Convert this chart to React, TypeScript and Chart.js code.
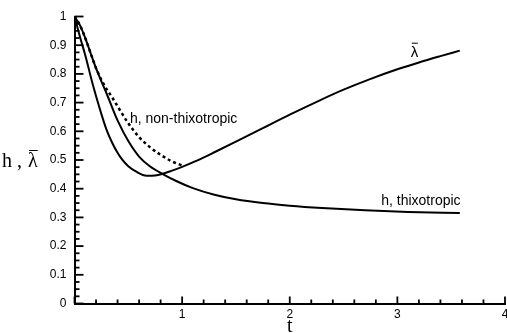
import { useEffect, useRef } from 'react';
import { Chart, registerables } from 'chart.js';

Chart.register(...registerables);

// λ̄ curve
const lambdaT = [0, 0.05, 0.1, 0.165, 0.21, 0.25, 0.3, 0.35, 0.4, 0.44, 0.5, 0.57, 0.67, 0.75, 0.82, 0.9, 1.0, 1.12, 1.3, 1.5, 1.75, 2.0, 2.28, 2.5, 2.74, 3.0, 3.2, 3.4, 3.58];
const lambdaV = [1, 0.93, 0.865, 0.77, 0.71, 0.66, 0.603, 0.56, 0.525, 0.503, 0.478, 0.46, 0.445, 0.446, 0.452, 0.462, 0.476, 0.495, 0.527, 0.564, 0.611, 0.658, 0.708, 0.745, 0.781, 0.816, 0.84, 0.862, 0.881];

// h, thixotropic
const hThixoT = [0, 0.05, 0.1, 0.15, 0.2, 0.26, 0.3, 0.4, 0.5, 0.6, 0.7, 0.82, 0.95, 1.1, 1.3, 1.5, 1.75, 2.0, 2.3, 2.7, 3.1, 3.58];
const hThixoV = [1, 0.97, 0.925, 0.872, 0.82, 0.765, 0.73, 0.638, 0.566, 0.512, 0.478, 0.451, 0.426, 0.402, 0.379, 0.363, 0.35, 0.341, 0.333, 0.325, 0.319, 0.315];

// h, non-thixotropic
const hNonT = [0, 0.05, 0.1, 0.15, 0.2, 0.27, 0.35, 0.42, 0.5, 0.6, 0.7, 0.8, 0.9, 1.02];
const hNonV = [1, 0.97, 0.925, 0.872, 0.82, 0.765, 0.718, 0.675, 0.628, 0.58, 0.545, 0.518, 0.496, 0.478];

const xMin = 0;
const xMax = 4;
const yMin = 0;
const yMax = 1;
const xMajorStep = 1;
const xMinorStep = 0.2;
const yMajorStep = 0.1;
const yMinorStep = 0.025;

const sans = '"Liberation Sans", Arial, sans-serif';
const serif = '"Liberation Serif", "Times New Roman", serif';

const curveLabels = [
  { text: 'h, non-thixotropic', t: 0.515, v: 0.629, bar: false },
  { text: 'h, thixotropic', t: 2.85, v: 0.343, bar: false },
  { text: 'λ', t: 3.125, v: 0.86, bar: true },
];

const yTitleMain = 'h ,';
const yTitleSym = 'λ';
const xTitle = 't';

const pts = (t: number[], v: number[]) => t.map((x, i) => ({ x, y: v[i] }));

const inwardTicks = {
  id: 'inwardTicks',
  afterDraw(chart: any) {
    const { ctx, chartArea, scales } = chart;
    const xs = scales.x;
    const ys = scales.y;
    ctx.save();
    ctx.fillStyle = '#000';
    const nx = Math.round((xMax - xMin) / xMinorStep);
    const perMajorX = Math.round(xMajorStep / xMinorStep);
    for (let i = 0; i <= nx; i++) {
      const px = xs.getPixelForValue(xMin + i * xMinorStep);
      const len = i % perMajorX === 0 ? 7 : 4;
      ctx.fillRect(px - 0.9, chartArea.bottom - len, 1.8, len);
    }
    const ny = Math.round((yMax - yMin) / yMinorStep);
    const perMajorY = Math.round(yMajorStep / yMinorStep);
    for (let i = 0; i <= ny; i++) {
      const py = ys.getPixelForValue(yMin + i * yMinorStep);
      const len = i % perMajorY === 0 ? 9 : 5;
      ctx.fillRect(chartArea.left, py - 0.9, len, 1.8);
    }

    // curve labels
    ctx.textBaseline = 'alphabetic';
    ctx.textAlign = 'left';
    for (const l of curveLabels) {
      ctx.font = l.bar ? `15px ${sans}` : `14px ${sans}`;
      const x = xs.getPixelForValue(l.t);
      const y = ys.getPixelForValue(l.v);
      ctx.fillText(l.text, x, y);
      if (l.bar) {
        const w = ctx.measureText(l.text).width;
        ctx.fillRect(x + 1, y - 14, w - 1.5, 1);
      }
    }

    // axis titles
    ctx.font = `20px ${serif}`;
    ctx.textAlign = 'left';
    const ty = ys.getPixelForValue(0.5) + 7;
    ctx.fillText(yTitleMain, 2, ty);
    const wMain = ctx.measureText(yTitleMain + ' ').width;
    const lx = 2 + wMain + 1;
    ctx.fillText(yTitleSym, lx, ty);
    const wl = ctx.measureText(yTitleSym).width;
    ctx.fillRect(lx + 1, ty - 17, wl - 1, 1);

    ctx.textAlign = 'center';
    ctx.fillText(xTitle, (chartArea.left + chartArea.right) / 2, chart.height - 1);
    ctx.restore();
  },
};

export default function App() {
  const ref = useRef<HTMLCanvasElement | null>(null);
  useEffect(() => {
    if (!ref.current) return;
    const lineBase = {
      showLine: true,
      pointRadius: 0,
      borderColor: '#000',
      backgroundColor: '#000',
      fill: false,
      cubicInterpolationMode: 'monotone' as const,
    };
    const chart = new Chart(ref.current, {
      type: 'scatter',
      data: {
        datasets: [
          { ...lineBase, label: 'λ̄', data: pts(lambdaT, lambdaV), borderWidth: 2 },
          { ...lineBase, label: 'h, thixotropic', data: pts(hThixoT, hThixoV), borderWidth: 2 },
          { ...lineBase, label: 'h, non-thixotropic', data: pts(hNonT, hNonV), borderWidth: 2.5, borderDash: [3, 3] },
        ],
      },
      options: {
        animation: false,
        responsive: false,
        devicePixelRatio: 1,
        layout: { padding: { top: 16.5, right: 2, left: 0, bottom: 0 } },
        plugins: { legend: { display: false }, tooltip: { enabled: false } },
        scales: {
          x: {
            type: 'linear',
            min: xMin,
            max: xMax,
            grid: { display: true, drawOnChartArea: false, drawTicks: false },
            border: { display: true, color: '#000', width: 2 },
            ticks: {
              stepSize: xMajorStep,
              padding: 4,
              color: '#000',
              font: { family: sans, size: 12 },
              callback: (v: any) => (Number(v) === 0 ? '' : String(Number(v))),
              maxRotation: 0,
            },
            afterFit: (s: any) => {
              s.height = 29.5;
              s.paddingRight = 2;
              s.paddingLeft = 0;
            },
          },
          y: {
            type: 'linear',
            min: yMin,
            max: yMax,
            grid: { display: true, drawOnChartArea: false, drawTicks: false },
            border: { display: true, color: '#000', width: 2 },
            ticks: {
              stepSize: yMajorStep,
              padding: 8,
              color: '#000',
              font: { family: sans, size: 12 },
              callback: (v: any) => String(Number(Number(v).toFixed(1))),
            },
            afterFit: (s: any) => {
              s.width = 74.5;
              s.paddingTop = 0;
              s.paddingBottom = 0;
            },
          },
        },
      },
      plugins: [inwardTicks],
    });
    return () => chart.destroy();
  }, []);
  return (
    <div style={{ position: 'fixed', left: 0, top: 0, width: 507, height: 333, background: '#fff' }}>
      <canvas ref={ref} width={507} height={333} />
    </div>
  );
}
